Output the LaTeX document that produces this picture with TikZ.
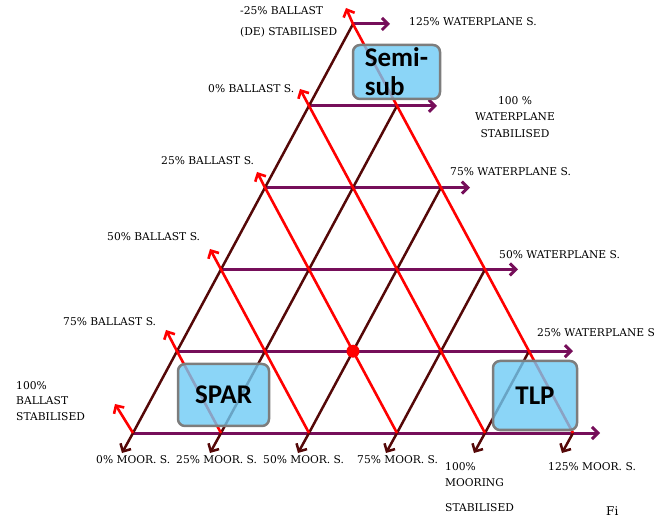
\documentclass[tikz,border=0pt]{standalone}
\usepackage{fontspec}
\setmainfont{DejaVu Serif}
\newfontfamily\boxfont{Carlito}
\usetikzlibrary{arrows.meta}
\definecolor{maroonline}{RGB}{85,8,8}
\definecolor{redline}{RGB}{255,0,0}
\definecolor{purpleline}{RGB}{118,14,90}
\definecolor{boxfill}{RGB}{110,203,245}
\definecolor{boxedge}{RGB}{125,125,125}
\begin{document}
\begin{tikzpicture}[x=1pt,y=-1pt,
  barb/.style={-{Straight Barb[length=6pt,width=12pt]}},
  wline/.style={purpleline,line width=3pt,barb},
  mline/.style={maroonline,line width=2.5pt,barb},
  rline/.style={redline,line width=2.6pt,barb},
  lbl/.style={inner sep=0pt,font=\fontsize{10.7}{12}\selectfont},
  typebox/.style={draw=boxedge,fill=boxfill,line width=2.5pt,rounded corners=7pt,
    fill opacity=0.8,text opacity=1,draw opacity=1,inner sep=0pt,
    font=\boxfont\bfseries\fontsize{27}{29}\selectfont},
]
\useasboundingbox (0,0) rectangle (656,518);
% grid points
\coordinate (B0) at (133,433);
\coordinate (B1) at (221,433);
\coordinate (B2) at (309,433);
\coordinate (B3) at (397,433);
\coordinate (B4) at (485,433);
\coordinate (B5) at (573,433);
\coordinate (L1) at (177,351.2);
\coordinate (L2) at (221,269.4);
\coordinate (L3) at (265,187.6);
\coordinate (L4) at (309,105.8);
\coordinate (L5) at (353,24);
\coordinate (R1) at (529,351.2);
\coordinate (R2) at (485,269.4);
\coordinate (R3) at (441,187.6);
\coordinate (R4) at (397,105.8);
% arrow ends
\coordinate (P0) at (600,433);
\coordinate (P1) at (573,351.2);
\coordinate (P2) at (518,269.4);
\coordinate (P3) at (470,187.6);
\coordinate (P4) at (437,105.8);
\coordinate (P5) at (390,24);
\coordinate (M0) at (122,453);
\coordinate (M1) at (210,453);
\coordinate (M2) at (298,453);
\coordinate (M3) at (386,453);
\coordinate (M4) at (474,453);
\coordinate (M5) at (562,453);
\coordinate (Q0) at (115,404);
\coordinate (Q1) at (166,330);
\coordinate (Q2) at (210,249);
\coordinate (Q3) at (257,172);
\coordinate (Q4) at (300,89);
\coordinate (Q5) at (346,8);
% waterplane lines
\draw[wline] (B0) -- (P0);
\draw[wline] (L1) -- (P1);
\draw[wline] (L2) -- (P2);
\draw[wline] (L3) -- (P3);
\draw[wline] (L4) -- (P4);
\draw[wline] (L5) -- (P5);
% mooring lines
\draw[mline] (L5) -- (B0) -- (M0);
\draw[mline] (R4) -- (B1) -- (M1);
\draw[mline] (R3) -- (B2) -- (M2);
\draw[mline] (R2) -- (B3) -- (M3);
\draw[mline] (R1) -- (B4) -- (M4);
\draw[mline] (B5) -- (M5);
% ballast lines
\draw[rline] (B5) -- (L5) -- (Q5);
\draw[rline] (B4) -- (L4) -- (Q4);
\draw[rline] (B3) -- (L3) -- (Q3);
\draw[rline] (B2) -- (L2) -- (Q2);
\draw[rline] (B1) -- (L1) -- (Q1);
\draw[rline] (B0) -- (Q0);
% red dot
\node[circle,fill=redline,inner sep=0pt,minimum size=13pt] (dot) at (353,351.2) {};
% boxes
\node[typebox,minimum width=87pt,minimum height=54pt,align=left] (semi) at (396.5,72) {Semi-\\sub};
\node[typebox,minimum width=91pt,minimum height=62pt] (spar) at (223.5,395) {SPAR};
\node[typebox,minimum width=84pt,minimum height=69pt] (tlp) at (535,395.5) {TLP};
% labels
\node[lbl,anchor=base west] (t1) at (240,15) {-25\% BALLAST};
\node[lbl,anchor=base west] (t2) at (240,36) {(DE) STABILISED};
\node[lbl,anchor=base west] (t3) at (409,26) {125\% WATERPLANE S.};
\node[lbl,anchor=base west] (t4) at (208,93) {0\% BALLAST S.};
\node[lbl,anchor=north,align=center,font=\fontsize{10.7}{16.5}\selectfont] (t5) at (515,96) {100 \%\\WATERPLANE\\STABILISED};
\node[lbl,anchor=base west] (t6) at (450,176) {75\% WATERPLANE S.};
\node[lbl,anchor=base west] (t7) at (499,259) {50\% WATERPLANE S.};
\node[lbl,anchor=base west] (t8) at (537,337) {25\% WATERPLANE S};
\node[lbl,anchor=base west] (t9) at (161,165) {25\% BALLAST S.};
\node[lbl,anchor=base west] (t10) at (107,241) {50\% BALLAST S.};
\node[lbl,anchor=base west] (t11) at (63,326) {75\% BALLAST S.};
\node[lbl,anchor=north west,align=left,font=\fontsize{10.7}{15.5}\selectfont] (t12) at (16,381) {100\%\\BALLAST\\STABILISED};
\node[lbl,anchor=base west] (t13) at (96,464) {0\% MOOR. S.};
\node[lbl,anchor=base west] (t14) at (176,463) {25\% MOOR. S.};
\node[lbl,anchor=base west] (t15) at (263,463) {50\% MOOR. S.};
\node[lbl,anchor=base west] (t16) at (357,464) {75\% MOOR. S.};
\node[lbl,anchor=north west,align=left,font=\fontsize{10.7}{16}\selectfont] (t17) at (445,462) {100\%\\MOORING\\[9pt]STABILISED};
\node[lbl,anchor=base west] (t18) at (548,470) {125\% MOOR. S.};
\node[lbl,anchor=base west,font=\fontsize{12}{14}\selectfont] (t19) at (606,515) {Fi};
\end{tikzpicture}
\end{document}
